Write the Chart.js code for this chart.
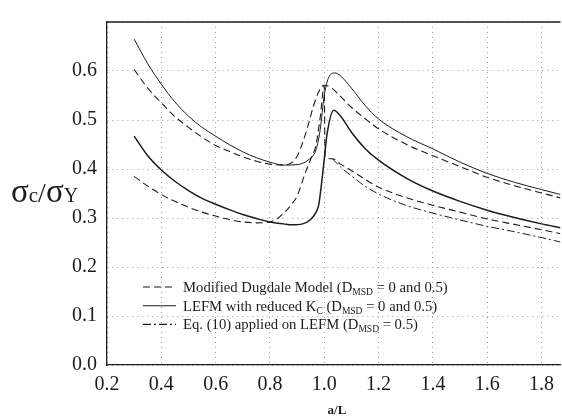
<!DOCTYPE html>
<html>
<head>
<meta charset="utf-8">
<script src="https://cdn.jsdelivr.net/npm/chart.js@4.4.0/dist/chart.umd.min.js"></script>
<style>
  html, body { margin: 0; padding: 0; background: #fff; }
  #wrap { width: 562px; height: 419px; position: relative; }
</style>
</head>
<body>
<div id="wrap"><canvas id="chartMsd"></canvas></div>
<script>
// ===== DONNEES =====
// Modified Dugdale Model, D_MSD = 0 (tirets, haut)
const dugdale0X = [0.30, 0.35, 0.40, 0.45, 0.50, 0.55, 0.60, 0.65, 0.70, 0.75, 0.80, 0.85, 0.88, 0.90, 0.92, 0.94, 0.96, 0.98, 1.00, 1.03, 1.06, 1.10, 1.15, 1.20, 1.30, 1.40, 1.50, 1.60, 1.70, 1.80, 1.87]
const dugdale0Y = [0.603, 0.565, 0.535, 0.507, 0.485, 0.465, 0.448, 0.436, 0.425, 0.416, 0.410, 0.408, 0.413, 0.426, 0.453, 0.488, 0.528, 0.558, 0.571, 0.564, 0.548, 0.526, 0.503, 0.482, 0.451, 0.427, 0.405, 0.383, 0.366, 0.351, 0.341]

// LEFM with reduced Kc, D_MSD = 0 (trait plein, haut)
const lefm0X = [0.30, 0.35, 0.40, 0.45, 0.50, 0.55, 0.60, 0.65, 0.70, 0.75, 0.80, 0.85, 0.90, 0.94, 0.97, 0.985, 1.00, 1.015, 1.04, 1.06, 1.10, 1.15, 1.20, 1.30, 1.40, 1.50, 1.60, 1.70, 1.80, 1.87]
const lefm0Y = [0.665, 0.615, 0.573, 0.537, 0.508, 0.485, 0.467, 0.450, 0.435, 0.423, 0.414, 0.408, 0.409, 0.418, 0.440, 0.480, 0.550, 0.585, 0.596, 0.590, 0.565, 0.530, 0.502, 0.467, 0.441, 0.414, 0.391, 0.373, 0.358, 0.348]

// LEFM with reduced Kc, D_MSD = 0.5 (trait plein, bas)
const lefm5X = [0.30, 0.35, 0.40, 0.45, 0.50, 0.55, 0.60, 0.65, 0.70, 0.75, 0.80, 0.85, 0.88, 0.92, 0.95, 0.97, 0.98, 0.99, 1.00, 1.01, 1.035, 1.06, 1.10, 1.15, 1.20, 1.30, 1.40, 1.50, 1.60, 1.70, 1.80, 1.87]
const lefm5Y = [0.467, 0.427, 0.398, 0.375, 0.356, 0.340, 0.328, 0.317, 0.307, 0.299, 0.292, 0.288, 0.286, 0.288, 0.297, 0.312, 0.328, 0.370, 0.420, 0.470, 0.520, 0.508, 0.475, 0.442, 0.418, 0.382, 0.355, 0.334, 0.316, 0.301, 0.288, 0.280]

// Modified Dugdale Model, D_MSD = 0.5 (tirets, bas)
const dugdale5X = [0.30, 0.35, 0.40, 0.45, 0.50, 0.55, 0.60, 0.65, 0.70, 0.75, 0.80, 0.83, 0.86, 0.88, 0.90, 0.93, 0.95, 0.97, 0.985, 1.00, 1.003, 1.03, 1.06, 1.10, 1.15, 1.20, 1.30, 1.40, 1.50, 1.60, 1.70, 1.80, 1.87]
const dugdale5Y = [0.385, 0.365, 0.348, 0.334, 0.322, 0.312, 0.304, 0.297, 0.292, 0.290, 0.292, 0.300, 0.315, 0.328, 0.345, 0.392, 0.420, 0.450, 0.505, 0.570, 0.425, 0.421, 0.410, 0.397, 0.379, 0.363, 0.342, 0.326, 0.312, 0.298, 0.287, 0.276, 0.268]

// Eq. (10) applied on LEFM, D_MSD = 0.5 (tiret-point)
const eq10X = [1.03, 1.06, 1.10, 1.15, 1.20, 1.30, 1.40, 1.50, 1.60, 1.70, 1.80, 1.87]
const eq10Y = [0.421, 0.404, 0.386, 0.365, 0.349, 0.326, 0.310, 0.296, 0.283, 0.272, 0.260, 0.251]

// axes
const xMin = 0.2, xMax = 1.87, xStep = 0.2
const yMin = 0.0, yMax = 0.7, yStep = 0.1

const encre = '#1c1c1c'
const grille = '#9a9a9a'
const serif = '"Liberation Serif", "DejaVu Serif", serif'
const tirets = [7, 4]
const tiretPoint = [8, 3, 2, 3]

function points(xs, ys) {
    return xs.map((x, i) => ({ x: x, y: ys[i] }))
}

function serie(label, xs, ys, dash, width) {
    return {
        label: label,
        data: points(xs, ys),
        borderColor: encre,
        borderWidth: width,
        borderDash: dash,
        pointRadius: 0,
        showLine: true,
        fill: false,
        cubicInterpolationMode: 'monotone'
    }
}

// ===== LEGENDE (dans le cadre) =====
const legende = [
    { dash: tirets, parts: [['Modified Dugdale Model (D', 0], ['MSD', 1], [' = 0 and 0.5)', 0]] },
    { dash: [], parts: [['LEFM with reduced K', 0], ['C', 1], [' (D', 0], ['MSD', 1], [' = 0 and 0.5)', 0]] },
    { dash: tiretPoint, parts: [['Eq. (10) applied on LEFM (D', 0], ['MSD', 1], [' = 0.5)', 0]] }
]

const pluginTextes = {
    id: 'textes',
    afterDraw(chart) {
        const ctx = chart.ctx
        const area = chart.chartArea
        ctx.save()

        // cadre du haut
        ctx.strokeStyle = encre
        ctx.lineWidth = 1.3
        ctx.setLineDash([])
        ctx.beginPath()
        ctx.moveTo(area.left, area.top)
        ctx.lineTo(area.right, area.top)
        ctx.stroke()

        // titre axe Y : sigma_c / sigma_Y
        ctx.fillStyle = encre
        ctx.textBaseline = 'alphabetic'
        ctx.textAlign = 'left'
        let x = 11
        const base = 202
        const morceaux = [['σ', 33], ['c', 21], ['/', 28], ['σ', 33], ['Y', 20]]
        morceaux.forEach(m => {
            ctx.font = m[1] + 'px ' + serif
            ctx.fillText(m[0], x, base)
            x += ctx.measureText(m[0]).width
        })

        // titre axe X
        ctx.font = 'bold 13px ' + serif
        ctx.textAlign = 'center'
        ctx.fillText('a/L', 337, 414)

        // legende
        ctx.textAlign = 'left'
        legende.forEach((item, i) => {
            const y = 287 + i * 18.7
            ctx.lineWidth = 1.1
            ctx.setLineDash(item.dash)
            ctx.beginPath()
            ctx.moveTo(143, y)
            ctx.lineTo(176, y)
            ctx.stroke()
            ctx.setLineDash([])
            let tx = 183
            item.parts.forEach(p => {
                ctx.font = (p[1] ? 9.5 : 14.7) + 'px ' + serif
                ctx.fillText(p[0], tx, y + (p[1] ? 8 : 5))
                tx += ctx.measureText(p[0]).width
            })
        })
        ctx.restore()
    }
}

// ===== GRAPHIQUE =====
const ctxMsd = document.getElementById('chartMsd')
new Chart(ctxMsd, {
    type: 'scatter',
    data: {
        datasets: [
            serie('Dugdale D=0', dugdale0X, dugdale0Y, tirets, 1.1),
            serie('LEFM D=0', lefm0X, lefm0Y, [], 1.0),
            serie('LEFM D=0.5', lefm5X, lefm5Y, [], 1.5),
            serie('Dugdale D=0.5', dugdale5X, dugdale5Y, tirets, 1.1),
            serie('Eq. (10) D=0.5', eq10X, eq10Y, tiretPoint, 1.0)
        ]
    },
    options: {
        responsive: true,
        maintainAspectRatio: false,
        animation: false,
        layout: { padding: { top: 12, right: 0, left: 0, bottom: 0 } },
        plugins: { legend: { display: false }, tooltip: { enabled: false } },
        scales: {
            x: {
                type: 'linear',
                min: xMin, max: xMax,
                afterFit: s => { s.height = 54 },
                ticks: {
                    stepSize: xStep,
                    includeBounds: false,
                    color: encre,
                    padding: 8,
                    font: { family: serif, size: 20 },
                    callback: v => v.toFixed(1)
                },
                grid: { color: grille, drawTicks: false, lineWidth: 1 },
                border: { color: encre, width: 1.3, dash: [1, 4] }
            },
            y: {
                type: 'linear',
                min: yMin, max: yMax,
                afterFit: s => { s.width = 107 },
                ticks: {
                    stepSize: yStep,
                    color: encre,
                    padding: 10,
                    font: { family: serif, size: 20 },
                    callback: v => v > 0.65 ? '' : v.toFixed(1)
                },
                grid: { color: grille, drawTicks: false, lineWidth: 1 },
                border: { color: encre, width: 1.3, dash: [1, 4] }
            }
        }
    },
    plugins: [pluginTextes]
})
</script>
</body>
</html>
